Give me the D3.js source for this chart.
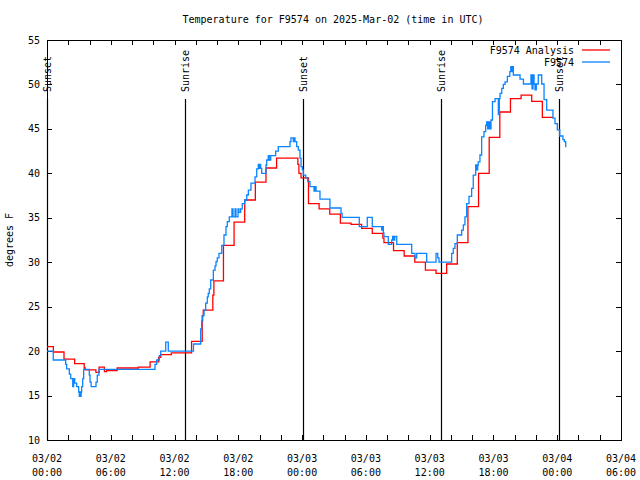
<!DOCTYPE html>
<html><head><meta charset="utf-8">
<script src="https://cdn.jsdelivr.net/npm/d3@7"></script>
<style>body{margin:0;background:#fff}svg{display:block}</style>
</head><body>
<svg id="c" width="640" height="480"></svg>
<script>
const titleText = "Temperature for F9574 on 2025-Mar-02 (time in UTC)";
const yLabelText = "degrees F";
const xDomainHours = [0, 54];
const yDomain = [10, 55];
const xMinorTickHours = d3.range(0, 55, 2);
const xTickHours = [0, 6, 12, 18, 24, 30, 36, 42, 48, 54];
const xTickDates = ["03/02","03/02","03/02","03/02","03/03","03/03","03/03","03/03","03/04","03/04"];
const xTickTimes = ["00:00","06:00","12:00","18:00","00:00","06:00","12:00","18:00","00:00","06:00"];
const yTicks = [10, 15, 20, 25, 30, 35, 40, 45, 50, 55];
const sunNames = ["Sunset", "Sunrise", "Sunset", "Sunrise", "Sunset"];
const sunHours = [0.0, 12.98, 24.08, 37.07, 48.17];
const seriesNames = ["F9574 Analysis", "F9574"];
const seriesColors = ["#ff0000", "#0a84ff"];

// [hours since 03/02 00:00 UTC, temperature F]
const analysis = [
  [0,20.5],[0.6,19.9],[1.6,19.1],[2.6,18.6],[3.5,18.1],[3.6,17.9],[4.6,17.6],[4.9,18.2],
  [5.4,17.7],[5.6,17.8],[6.6,18.1],[8.6,18.2],[9.7,18.8],[10.5,19.3],[10.7,19.6],[11.7,19.8],
  [13.6,21.1],[14.6,24.0],[14.7,24.6],[15.6,26.3],[15.7,27.9],[16.6,31.9],[17.6,34.5],
  [18.6,37.0],[19.6,39.0],[20.6,40.6],[21.6,41.7],[23.6,41.0],[23.7,40.0],[23.9,39.5],
  [24.6,36.6],[25.6,36.0],[26.6,35.4],[27.6,34.4],[28.6,34.25],[29.6,33.8],[30.6,33.25],
  [31.6,32.7],[31.7,32.2],[32.6,31.3],[33.6,30.7],[34.6,30.0],[35.6,29.1],[36.6,28.75],
  [37.6,29.8],[38.6,32.2],[39.6,36.25],[40.6,40.0],[41.6,44.05],[42.6,46.9],[43.6,48.4],
  [44.6,48.8],[45.6,48.1],[46.6,46.3],[47.6,46.3]
];

const observed = [
  [0,20.0],[0.59,19.0],[1.76,18.5],[1.85,18.0],[2.10,17.4],[2.23,16.9],[2.42,16.0],[2.51,16.9],
  [2.61,16.4],[2.79,16.0],[2.98,15.4],[3.04,14.9],[3.10,15.4],[3.15,14.9],[3.21,15.4],
  [3.26,16.0],[3.36,16.9],[3.45,17.95],[3.98,17.3],[4.05,16.5],[4.15,16.0],[4.61,16.5],
  [4.73,17.3],[4.89,17.95],[10.16,18.5],[10.32,19.0],[10.57,19.5],[10.70,20.0],[11.17,21.0],
  [11.41,20.0],[13.78,20.8],[14.46,22.5],[14.55,23.4],[14.65,24.0],[14.77,24.6],[14.93,25.4],
  [15.08,26.1],[15.17,26.5],[15.27,27.0],[15.40,28.0],[15.65,29.1],[15.81,29.6],[15.90,30.06],
  [16.02,30.5],[16.18,31.0],[16.44,31.9],[16.65,33.06],[16.84,34.0],[16.96,34.56],[17.15,35.1],
  [17.40,36.0],[17.50,35.1],[17.69,36.0],[17.78,35.1],[17.97,36.0],[18.06,35.6],[18.22,36.0],
  [18.37,36.6],[18.60,37.0],[18.79,37.56],[18.94,38.1],[19.19,38.9],[19.57,39.6],[19.73,40.5],
  [19.88,41.0],[19.97,40.56],[20.04,41.0],[20.10,40.56],[20.20,40.0],[20.60,40.94],[20.67,41.5],
  [20.82,42.0],[20.91,41.5],[21.05,42.0],[21.51,42.5],[21.76,43.0],[22.86,43.56],[22.95,44.0],
  [23.17,43.56],[23.24,44.0],[23.33,43.56],[23.49,43.0],[23.64,42.6],[23.80,41.7],[23.90,40.75],
  [24.02,40.4],[24.11,39.8],[24.34,39.5],[24.53,39.06],[24.74,38.5],[25.12,38.0],[25.21,38.5],
  [25.31,38.0],[25.68,37.1],[26.62,36.1],[27.66,35.5],[27.76,35.05],[29.38,34.0],[30.13,35.05],
  [30.60,34.0],[31.49,33.6],[31.56,34.0],[31.64,33.3],[31.70,32.87],[32.11,32.0],[32.43,32.5],
  [32.52,32.9],[32.62,32.5],[32.71,32.9],[32.90,32.0],[34.31,31.0],[34.62,30.5],[34.78,31.0],
  [35.72,30.0],[36.60,31.0],[36.76,30.5],[36.88,30.0],[38.07,31.0],[38.22,31.56],[38.38,32.1],
  [38.60,33.06],[39.01,33.6],[39.17,34.2],[39.32,35.1],[39.48,36.6],[39.70,37.4],[39.95,38.3],
  [40.10,39.8],[40.33,40.94],[40.42,40.4],[40.52,40.94],[40.57,41.3],[40.73,42.06],[40.89,44.1],
  [41.11,44.7],[41.27,45.4],[41.36,45.8],[41.46,45.0],[41.58,45.8],[41.68,45.0],[41.77,46.0],
  [41.91,48.06],[42.15,48.4],[42.46,46.6],[42.55,48.4],[42.62,49.0],[42.78,49.56],[42.93,50.0],
  [43.09,50.3],[43.31,50.9],[43.54,51.44],[43.63,52.0],[43.72,51.44],[43.78,52.0],[43.87,51.06],
  [44.50,50.6],[44.82,50.05],[45.53,51.06],[45.63,49.5],[45.72,51.06],[45.82,50.05],[45.91,49.4],
  [46.03,50.05],[46.22,51.06],[46.54,50.05],[46.76,48.3],[47.01,47.1],[47.60,46.2],[47.79,45.6],
  [48.01,44.9],[48.24,44.2],[48.54,43.8],[48.67,43.56],[48.80,43.0],[48.85,43.0]
];

const W = 640, H = 480;
const L = 47, R = 621, T = 40, B = 440;
const FONT = "'DejaVu Sans Mono', monospace";
const svg = d3.select("#c");
const x = d3.scaleLinear().domain(xDomainHours).range([L, R]);
const y = d3.scaleLinear().domain(yDomain).range([B, T]);

svg.append("rect").attr("width", W).attr("height", H).attr("fill", "#fff");

// title
svg.append("text").attr("x", 333).attr("y", 23).attr("text-anchor", "middle")
  .attr("font-family", FONT).attr("font-size", 10).attr("fill", "#000").text(titleText);

// y label
svg.append("text").attr("transform", "translate(13,240) rotate(-90)")
  .attr("text-anchor", "middle").attr("font-family", FONT).attr("font-size", 10)
  .attr("fill", "#000").text(yLabelText);

// axes with inward ticks
const tickLen = 5;
const axG = svg.append("g").attr("shape-rendering", "crispEdges");
const bottomAxis = d3.axisBottom(x).tickValues(xMinorTickHours).tickSize(-tickLen).tickFormat("");
const topAxis = d3.axisTop(x).tickValues(xMinorTickHours).tickSize(-tickLen).tickFormat("");
const leftAxis = d3.axisLeft(y).tickValues(yTicks).tickSize(-tickLen).tickFormat("");
const rightAxis = d3.axisRight(y).tickValues(yTicks).tickSize(-tickLen).tickFormat("");
[[bottomAxis, `translate(0,${B})`], [topAxis, `translate(0,${T})`],
 [leftAxis, `translate(${L},0)`], [rightAxis, `translate(${R},0)`]].forEach(([a, tr]) => {
  const g = axG.append("g").attr("transform", tr).call(a);
  g.select(".domain").remove();
  g.selectAll("line").attr("stroke", "#000");
});

// y tick labels
svg.append("g").selectAll("text").data(yTicks).join("text")
  .attr("x", 40).attr("y", d => y(d)).attr("dy", "0.35em").attr("text-anchor", "end")
  .attr("font-family", FONT).attr("font-size", 10).attr("fill", "#000").text(d => d);

// x tick labels
const xl = svg.append("g").selectAll("text").data(xTickHours).join("text")
  .attr("text-anchor", "middle").attr("font-family", FONT).attr("font-size", 10).attr("fill", "#000");
xl.append("tspan").attr("x", d => x(d)).attr("y", 462).text((d, i) => xTickDates[i]);
xl.append("tspan").attr("x", d => x(d)).attr("y", 476).text((d, i) => xTickTimes[i]);

// frame
svg.append("rect").attr("x", L).attr("y", T).attr("width", R - L).attr("height", B - T)
  .attr("fill", "none").attr("stroke", "#000").attr("stroke-width", 1).attr("shape-rendering", "crispEdges");

// sun lines
const sunG = svg.append("g");
sunG.selectAll("line").data(sunHours).join("line")
  .attr("x1", d => Math.round(x(d)) + 0.5).attr("x2", d => Math.round(x(d)) + 0.5)
  .attr("y1", 99).attr("y2", B).attr("stroke", "#000").attr("stroke-width", 1.2);
sunG.selectAll("text").data(sunHours).join("text")
  .attr("transform", d => `translate(${x(d) + 0.5},92) rotate(-90)`)
  .attr("dy", "0.35em").attr("text-anchor", "start")
  .attr("font-family", FONT).attr("font-size", 10).attr("fill", "#000")
  .text((d, i) => sunNames[i]);

// series
const line = d3.line().x(d => x(d[0])).y(d => y(d[1])).curve(d3.curveStepAfter);
[analysis, observed].forEach((data, i) => {
  svg.append("path").datum(data).attr("d", line).attr("fill", "none")
    .attr("stroke", seriesColors[i]).attr("stroke-width", 1.3);
});

// legend
const legY = [50, 62];
seriesNames.forEach((name, i) => {
  svg.append("text").attr("x", 574).attr("y", legY[i]).attr("dy", "0.35em").attr("text-anchor", "end")
    .attr("font-family", FONT).attr("font-size", 10).attr("fill", "#000").text(name);
  svg.append("line").attr("x1", 582).attr("x2", 610).attr("y1", legY[i]).attr("y2", legY[i])
    .attr("stroke", seriesColors[i]).attr("stroke-width", 1.3);
});
</script>
</body></html>
